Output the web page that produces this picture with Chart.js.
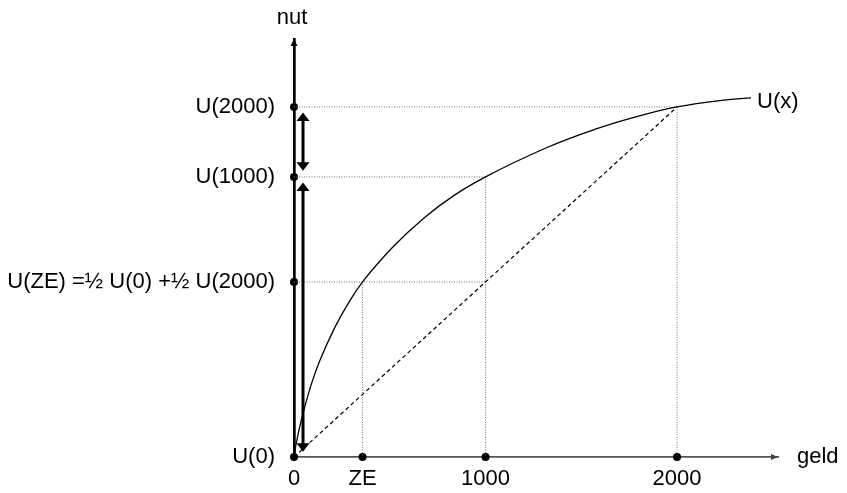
<!DOCTYPE html>
<html>
<head>
<meta charset="utf-8">
<script src="https://cdn.jsdelivr.net/npm/chart.js@4.4.0/dist/chart.umd.min.js"></script>
<style>
  html, body { margin: 0; padding: 0; background: #fff; }
</style>
</head>
<body>
<canvas id="nut-chart" width="847" height="493"></canvas>
<script>
const geldTicks = [0, 358, 1000, 2000];
const geldLabels = ['0', 'ZE', '1000', '2000'];
const nutTicks = [0, 50, 80, 100];
const nutLabels = ['U(0)', 'U(ZE) =½ U(0) +½ U(2000)', 'U(1000)', 'U(2000)'];

// U(x)
const curveX = [0, 12, 31, 56, 94, 134, 214, 291, 358, 520, 679, 838, 1000, 1321, 1493, 1666, 1833, 2000, 2225, 2386];
const curveY = [0, 4.0, 8.9, 14.3, 21.4, 27.4, 37.1, 44.6, 50, 60.2, 68.3, 74.8, 80, 88.4, 92.1, 95.3, 97.9, 100, 101.8, 102.6];

// double arrows beside the nut axis
const arrowX = 47;
const arrowFrom = [98.4, 78.4];
const arrowTo = [81.8, 1.5];

// horizontal guides run to here (ZE one stops at the chord)
const guideEnd = [1000, 1000, 2000];

const FAMILY = '"Liberation Sans", Arial, sans-serif';
const ctx = document.getElementById('nut-chart').getContext('2d');

const curve = curveX.map((x, i) => ({ x: x, y: curveY[i] }));

const guideStyle = {
  showLine: true,
  borderColor: '#777',
  borderWidth: 1,
  borderDash: [1, 1.5],
  pointRadius: 0
};
const guides = [];
[1, 2, 3].forEach((k, j) => {
  guides.push(Object.assign({ data: [{ x: 0, y: nutTicks[k] }, { x: guideEnd[j], y: nutTicks[k] }] }, guideStyle));
  guides.push(Object.assign({ data: [{ x: geldTicks[k], y: nutTicks[k] }, { x: geldTicks[k], y: 0 }] }, guideStyle));
});

const dots = nutTicks.map(v => ({ x: 0, y: v }))
  .concat(geldTicks.slice(1).map(v => ({ x: v, y: 0 })));

const extras = {
  id: 'extras',
  afterDatasetsDraw(chart) {
    const c = chart.ctx;
    const xs = chart.scales.x, ys = chart.scales.y;
    const a = chart.chartArea;
    c.save();
    c.fillStyle = '#000';
    c.strokeStyle = '#000';

    // axis arrow heads
    c.beginPath();
    c.moveTo(a.left, a.top);
    c.lineTo(a.left - 3.5, a.top + 7);
    c.lineTo(a.left + 3.5, a.top + 7);
    c.closePath();
    c.fill();
    c.fillStyle = '#444';
    c.beginPath();
    c.moveTo(a.right, a.bottom);
    c.lineTo(a.right - 7, a.bottom - 3);
    c.lineTo(a.right - 7, a.bottom + 3);
    c.closePath();
    c.fill();

    // double arrows
    c.fillStyle = '#000';
    c.lineWidth = 3;
    const px = xs.getPixelForValue(arrowX);
    arrowFrom.forEach((f, i) => {
      const y1 = ys.getPixelForValue(f);
      const y2 = ys.getPixelForValue(arrowTo[i]);
      c.beginPath();
      c.moveTo(px, y1 + 6);
      c.lineTo(px, y2 - 6);
      c.stroke();
      [[y1, 1], [y2, -1]].forEach(([y, d]) => {
        c.beginPath();
        c.moveTo(px, y);
        c.lineTo(px - 6.5, y + d * 8.5);
        c.lineTo(px + 6.5, y + d * 8.5);
        c.closePath();
        c.fill();
      });
    });

    // axis names and curve label
    c.font = '22px ' + FAMILY;
    c.textBaseline = 'middle';
    c.textAlign = 'center';
    c.fillText('nut', a.left - 2, a.top - 21);
    c.textAlign = 'left';
    c.fillText('geld', a.right + 19, a.bottom);
    const last = curve[curve.length - 1];
    c.fillText('U(x)', xs.getPixelForValue(last.x) + 6, ys.getPixelForValue(last.y) + 4);
    c.restore();
  }
};

const nutChart = new Chart(ctx, {
  type: 'scatter',
  data: {
    datasets: [
      {
        data: curve,
        showLine: true,
        borderColor: '#000',
        borderWidth: 1.3,
        pointRadius: 0,
        cubicInterpolationMode: 'monotone'
      },
      {
        data: [{ x: 0, y: nutTicks[0] }, { x: geldTicks[3], y: nutTicks[3] }],
        showLine: true,
        borderColor: '#000',
        borderWidth: 1.2,
        borderDash: [4, 3],
        pointRadius: 0
      },
      ...guides,
      {
        data: dots,
        pointRadius: 4,
        pointBackgroundColor: '#000',
        pointBorderWidth: 0,
        clip: false
      }
    ]
  },
  options: {
    responsive: false,
    animation: false,
    layout: { padding: { top: 39, right: 69, left: 0, bottom: 0 } },
    plugins: { legend: { display: false }, tooltip: { enabled: false } },
    scales: {
      x: {
        type: 'linear',
        min: 0,
        max: 2527,
        afterFit: s => { s.height = 36; },
        afterBuildTicks: s => { s.ticks = geldTicks.map(v => ({ value: v })); },
        grid: { display: false, drawTicks: false },
        border: { display: true, color: '#555', width: 1.7 },
        ticks: {
          autoSkip: false,
          maxRotation: 0,
          padding: 9,
          color: '#000',
          font: { family: FAMILY, size: 22 },
          callback: (v, i) => geldLabels[i]
        }
      },
      y: {
        type: 'linear',
        min: 0,
        max: 119.4,
        afterFit: s => { s.width = 294; },
        afterBuildTicks: s => { s.ticks = nutTicks.map(v => ({ value: v })); },
        grid: { display: false, drawTicks: false },
        border: { display: true, color: '#000', width: 2.7 },
        ticks: {
          autoSkip: false,
          padding: 19,
          color: '#000',
          font: { family: FAMILY, size: 22 },
          callback: (v, i) => nutLabels[i]
        }
      }
    }
  },
  plugins: [extras]
});
</script>
</body>
</html>
